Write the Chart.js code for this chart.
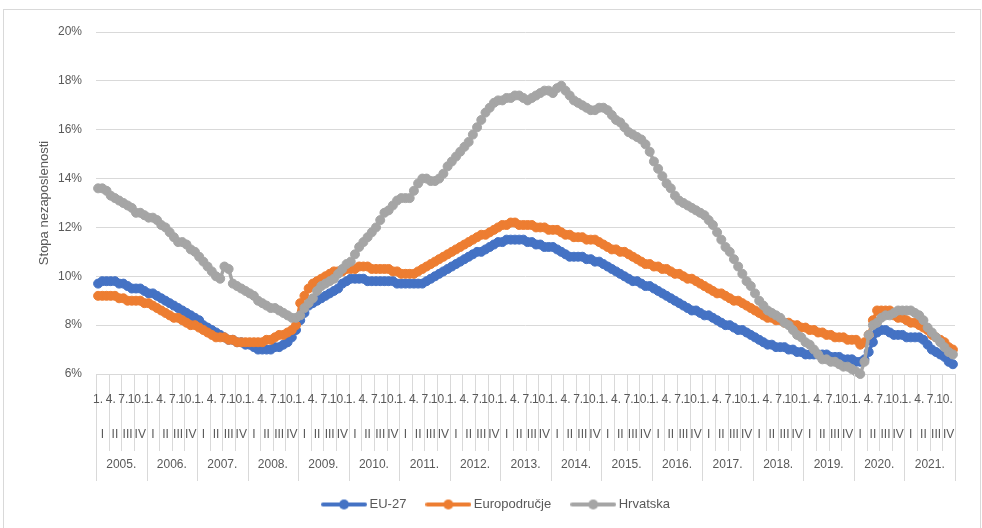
<!DOCTYPE html>
<html>
<head>
<meta charset="utf-8">
<script src="https://cdn.jsdelivr.net/npm/chart.js@4.4.0/dist/chart.umd.min.js"></script>
<style>
  html, body { margin: 0; padding: 0; background: #fff; }
  canvas { display: block; }
</style>
</head>
<body>
<canvas id="chart" width="982" height="528"></canvas>
<script>
// x axis levels
const years = ['2005.', '2006.', '2007.', '2008.', '2009.', '2010.', '2011.', '2012.', '2013.',
    '2014.', '2015.', '2016.', '2017.', '2018.', '2019.', '2020.', '2021.'];
const quarters = ['I', 'II', 'III', 'IV'];
const monthTicks = ['1.', '4.', '7.', '10.'];

// monthly unemployment rate, % (Jan 2005 - Dec 2021)
const eu27 = [
    9.7, 9.8, 9.8, 9.8, 9.8, 9.7, 9.7, 9.6, 9.5, 9.5, 9.5, 9.4,
    9.3, 9.3, 9.2, 9.1, 9.0, 8.9, 8.8, 8.7, 8.6, 8.5, 8.4, 8.3,
    8.2, 8.0, 7.9, 7.8, 7.7, 7.6, 7.5, 7.4, 7.4, 7.3, 7.3, 7.2,
    7.2, 7.1, 7.0, 7.0, 7.0, 7.0, 7.1, 7.1, 7.2, 7.3, 7.5, 7.8,
    8.2, 8.5, 8.8, 8.9, 9.0, 9.1, 9.2, 9.3, 9.4, 9.5, 9.7, 9.8,
    9.9, 9.9, 9.9, 9.9, 9.8, 9.8, 9.8, 9.8, 9.8, 9.8, 9.8, 9.7,
    9.7, 9.7, 9.7, 9.7, 9.7, 9.7, 9.8, 9.9, 10.0, 10.1, 10.2, 10.3,
    10.4, 10.5, 10.6, 10.7, 10.8, 10.9, 11.0, 11.0, 11.1, 11.2, 11.3, 11.4,
    11.4, 11.5, 11.5, 11.5, 11.5, 11.5, 11.4, 11.4, 11.3, 11.3, 11.2, 11.2,
    11.2, 11.1, 11.0, 10.9, 10.8, 10.8, 10.8, 10.8, 10.7, 10.7, 10.6, 10.6,
    10.5, 10.4, 10.3, 10.2, 10.1, 10.0, 9.9, 9.8, 9.8, 9.7, 9.6, 9.6,
    9.5, 9.4, 9.3, 9.2, 9.1, 9.0, 8.9, 8.8, 8.7, 8.6, 8.6, 8.5,
    8.4, 8.4, 8.3, 8.2, 8.1, 8.0, 8.0, 7.9, 7.8, 7.8, 7.7, 7.6,
    7.5, 7.4, 7.3, 7.2, 7.2, 7.1, 7.1, 7.1, 7.0, 7.0, 6.9, 6.9,
    6.8, 6.8, 6.8, 6.8, 6.8, 6.8, 6.7, 6.7, 6.7, 6.6, 6.6, 6.6,
    6.5, 6.5, 6.6, 6.9, 7.3, 7.7, 7.8, 7.8, 7.7, 7.6, 7.6, 7.6,
    7.5, 7.5, 7.5, 7.5, 7.4, 7.2, 7.0, 6.9, 6.8, 6.7, 6.5, 6.4
];
const euroArea = [
    9.2, 9.2, 9.2, 9.2, 9.2, 9.1, 9.1, 9.0, 9.0, 9.0, 9.0, 8.9,
    8.9, 8.8, 8.7, 8.6, 8.5, 8.4, 8.3, 8.3, 8.2, 8.1, 8.0, 8.0,
    7.9, 7.8, 7.7, 7.6, 7.5, 7.5, 7.5, 7.4, 7.4, 7.3, 7.3, 7.3,
    7.3, 7.3, 7.3, 7.3, 7.4, 7.4, 7.5, 7.6, 7.6, 7.7, 7.8, 8.0,
    8.9, 9.2, 9.5, 9.7, 9.8, 9.9, 10.0, 10.1, 10.2, 10.2, 10.2, 10.3,
    10.3, 10.3, 10.4, 10.4, 10.4, 10.3, 10.3, 10.3, 10.3, 10.3, 10.2, 10.2,
    10.1, 10.1, 10.1, 10.1, 10.2, 10.3, 10.4, 10.5, 10.6, 10.7, 10.8, 10.9,
    11.0, 11.1, 11.2, 11.3, 11.4, 11.5, 11.6, 11.7, 11.7, 11.8, 11.9, 12.0,
    12.1, 12.1, 12.2, 12.2, 12.1, 12.1, 12.1, 12.1, 12.0, 12.0, 12.0, 11.9,
    11.9, 11.9, 11.8, 11.7, 11.7, 11.6, 11.6, 11.6, 11.5, 11.5, 11.5, 11.4,
    11.3, 11.2, 11.1, 11.1, 11.0, 11.0, 10.9, 10.8, 10.7, 10.6, 10.5, 10.5,
    10.4, 10.4, 10.3, 10.3, 10.2, 10.1, 10.1, 10.0, 9.9, 9.9, 9.8, 9.7,
    9.6, 9.5, 9.4, 9.3, 9.3, 9.2, 9.1, 9.0, 9.0, 8.9, 8.8, 8.7,
    8.6, 8.5, 8.4, 8.3, 8.3, 8.2, 8.2, 8.1, 8.1, 8.0, 8.0, 7.9,
    7.9, 7.8, 7.8, 7.7, 7.7, 7.6, 7.6, 7.5, 7.5, 7.5, 7.4, 7.4,
    7.4, 7.2, 7.3, 7.6, 8.2, 8.6, 8.6, 8.6, 8.6, 8.4, 8.3, 8.3,
    8.2, 8.1, 8.1, 8.0, 7.9, 7.8, 7.6, 7.5, 7.4, 7.3, 7.1, 7.0
];
const croatia = [
    13.6, 13.6, 13.5, 13.3, 13.2, 13.1, 13.0, 12.9, 12.8, 12.6, 12.6, 12.5,
    12.4, 12.4, 12.3, 12.1, 12.0, 11.8, 11.6, 11.4, 11.4, 11.3, 11.1, 11.0,
    10.8, 10.6, 10.4, 10.2, 10.0, 9.9, 10.4, 10.3, 9.7, 9.6, 9.5, 9.4,
    9.3, 9.2, 9.0, 8.9, 8.8, 8.7, 8.7, 8.6, 8.5, 8.4, 8.3, 8.3,
    8.4, 8.7, 8.9, 9.1, 9.4, 9.6, 9.7, 9.8, 9.9, 10.1, 10.3, 10.5,
    10.6, 10.9, 11.2, 11.4, 11.6, 11.8, 12.0, 12.3, 12.6, 12.7, 12.9, 13.1,
    13.2, 13.2, 13.2, 13.5, 13.8, 14.0, 14.0, 13.9, 13.9, 14.0, 14.2, 14.5,
    14.7, 14.9, 15.1, 15.3, 15.5, 15.8, 16.1, 16.4, 16.7, 16.9, 17.1, 17.2,
    17.2, 17.3, 17.3, 17.4, 17.4, 17.3, 17.2, 17.3, 17.4, 17.5, 17.6, 17.6,
    17.5, 17.7, 17.8, 17.6, 17.4, 17.2, 17.1, 17.0, 16.9, 16.8, 16.8, 16.9,
    16.9, 16.8, 16.6, 16.4, 16.3, 16.1, 15.9, 15.8, 15.7, 15.6, 15.4, 15.1,
    14.7, 14.4, 14.1, 13.8, 13.6, 13.3, 13.1, 13.0, 12.9, 12.8, 12.7, 12.6,
    12.5, 12.3, 12.1, 11.8, 11.5, 11.2, 11.0, 10.7, 10.4, 10.1, 9.8, 9.6,
    9.3, 9.0, 8.8, 8.6, 8.5, 8.4, 8.3, 8.1, 8.0, 7.8, 7.6, 7.5,
    7.3, 7.2, 7.0, 6.8, 6.6, 6.6, 6.5, 6.5, 6.4, 6.3, 6.3, 6.2,
    6.1, 6.0, 6.5, 7.6, 8.0, 8.1, 8.3, 8.4, 8.4, 8.5, 8.6, 8.6,
    8.6, 8.6, 8.5, 8.4, 8.2, 7.9, 7.7, 7.5, 7.3, 7.1, 6.9, 6.8
];

const FONT = 'Liberation Sans';
const TEXT_COLOR = '#595959';
const GRID_COLOR = '#D9D9D9';
const COLORS = ['#4472C4', '#ED7D31', '#A5A5A5'];

// one category per month
const categories = [];
years.forEach(y => {
    for (let m = 1; m <= 12; m++) categories.push(y + m + '.');
});

// legend swatch: short line with a marker in the middle
function legendSwatch(color) {
    const c = document.createElement('canvas');
    c.width = 46;
    c.height = 12;
    const g = c.getContext('2d');
    g.strokeStyle = color;
    g.lineWidth = 4;
    g.lineCap = 'round';
    g.beginPath();
    g.moveTo(2, 6);
    g.lineTo(44, 6);
    g.stroke();
    g.fillStyle = color;
    g.beginPath();
    g.arc(23, 6, 5, 0, Math.PI * 2);
    g.fill();
    return c;
}
const swatches = COLORS.map(legendSwatch);

// frame + the three-level category axis (month / quarter / year)
const multiLevelAxis = {
    id: 'multiLevelAxis',
    beforeDraw(chart) {
        const ctx = chart.ctx;
        ctx.save();
        ctx.strokeStyle = GRID_COLOR;
        ctx.lineWidth = 1;
        ctx.strokeRect(3.5, 9.5, 977, 530);
        ctx.restore();
    },
    afterDraw(chart) {
        const { ctx, chartArea, scales: { x } } = chart;
        const step = x.getPixelForValue(1) - x.getPixelForValue(0);
        const base = chartArea.bottom;
        ctx.save();
        ctx.strokeStyle = GRID_COLOR;
        ctx.lineWidth = 1;
        for (let q = 0; q <= years.length * 4; q++) {
            const px = Math.round(x.getPixelForValue(q * 3) - step / 2) + 0.5;
            ctx.beginPath();
            ctx.moveTo(px, base);
            ctx.lineTo(px, base + (q % 4 === 0 ? 107 : 77));
            ctx.stroke();
        }
        ctx.fillStyle = TEXT_COLOR;
        ctx.font = '12px "' + FONT + '"';
        ctx.textAlign = 'center';
        ctx.textBaseline = 'middle';
        years.forEach((y, yi) => {
            const first = yi * 12;
            quarters.forEach((q, qi) => {
                const m = first + qi * 3;
                ctx.fillText(monthTicks[qi], x.getPixelForValue(m), base + 26);
                ctx.fillText(q, (x.getPixelForValue(m) + x.getPixelForValue(m + 2)) / 2, base + 61);
            });
            ctx.fillText(y, (x.getPixelForValue(first) + x.getPixelForValue(first + 11)) / 2, base + 91);
        });
        ctx.restore();
    }
};

function series(label, data, idx) {
    return {
        label,
        data,
        borderColor: COLORS[idx],
        backgroundColor: COLORS[idx],
        pointBackgroundColor: COLORS[idx],
        pointBorderColor: COLORS[idx],
        borderWidth: 3.5,
        pointRadius: 4.5,
        pointBorderWidth: 1,
        tension: 0,
        clip: false,
        order: 3 - idx
    };
}

new Chart(document.getElementById('chart'), {
    type: 'line',
    data: {
        labels: categories,
        datasets: [
            series('EU-27', eu27, 0),
            series('Europodručje', euroArea, 1),
            series('Hrvatska', croatia, 2)
        ]
    },
    options: {
        responsive: false,
        animation: false,
        layout: { padding: { left: 40, right: 27, top: 32, bottom: 7 } },
        plugins: {
            tooltip: { enabled: false },
            legend: {
                position: 'bottom',
                labels: {
                    usePointStyle: true,
                    pointStyleWidth: 38,
                    padding: 23,
                    color: TEXT_COLOR,
                    font: { family: FONT, size: 13 },
                    sort: (a, b) => a.datasetIndex - b.datasetIndex,
                    generateLabels(chart) {
                        const items = Chart.defaults.plugins.legend.labels.generateLabels(chart);
                        items.forEach(it => { it.pointStyle = swatches[it.datasetIndex]; });
                        return items;
                    }
                }
            }
        },
        scales: {
            x: {
                type: 'category',
                offset: true,
                ticks: { display: false },
                grid: { display: false },
                border: { display: false },
                afterFit(scale) { scale.height = 101; }
            },
            y: {
                min: 6,
                max: 20,
                ticks: {
                    stepSize: 2,
                    padding: 14,
                    color: TEXT_COLOR,
                    font: { family: FONT, size: 12 },
                    callback: v => v + '%'
                },
                grid: { color: GRID_COLOR, drawTicks: false },
                border: { display: false },
                title: {
                    display: true,
                    text: 'Stopa nezaposlenosti',
                    color: TEXT_COLOR,
                    font: { family: FONT, size: 13 },
                    padding: { top: -3.8, bottom: 0 }
                },
                afterFit(scale) { scale.width = 56; }
            }
        }
    },
    plugins: [multiLevelAxis]
});
</script>
</body>
</html>
